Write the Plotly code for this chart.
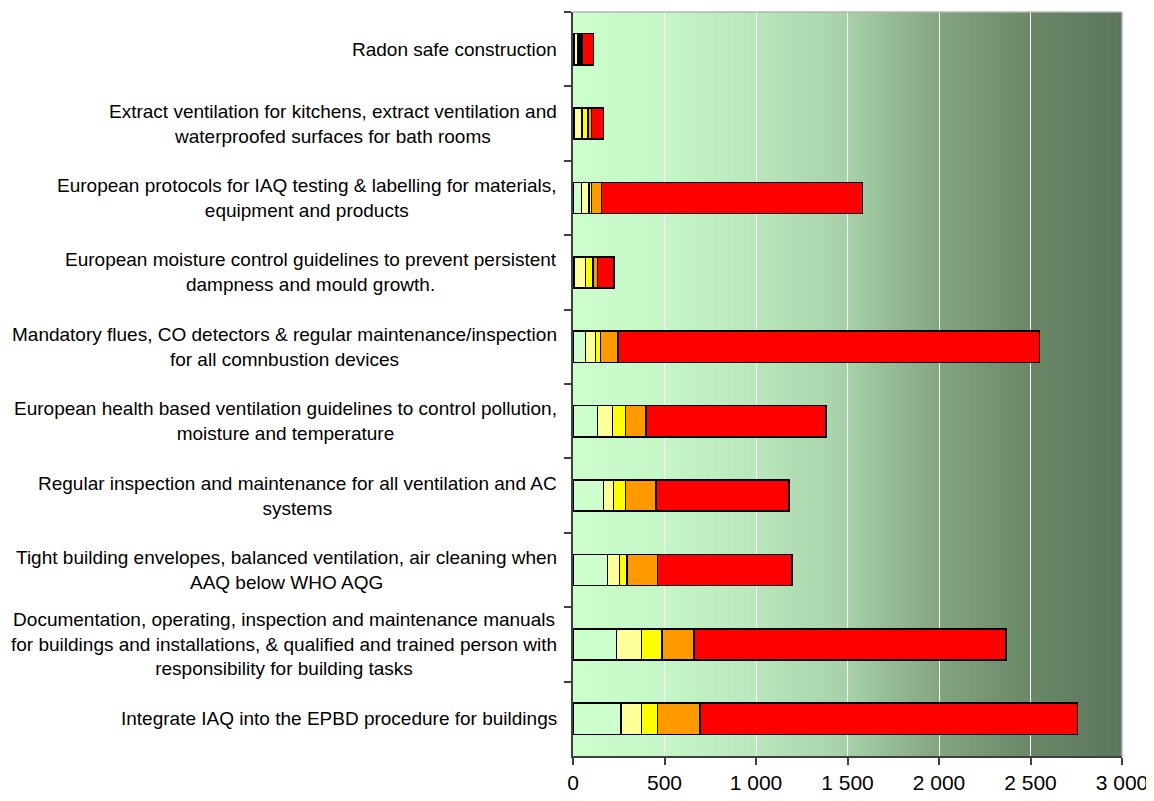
import plotly.graph_objects as go

# ---------------- data ----------------
categories = [
    "Radon safe construction",
    "Extract ventilation for kitchens, extract ventilation and<br>waterproofed surfaces for bath rooms",
    "European protocols for IAQ testing & labelling for materials,<br>equipment and products",
    "European moisture control guidelines to prevent persistent<br>dampness and mould growth.",
    "Mandatory flues, CO detectors & regular maintenance/inspection<br>for all comnbustion devices",
    "European health based ventilation guidelines to control pollution,<br>moisture and temperature",
    "Regular inspection and maintenance for all ventilation and AC<br>systems",
    "Tight building envelopes, balanced ventilation, air cleaning when<br>AAQ below WHO AQG",
    "Documentation, operating, inspection and maintenance manuals<br>for buildings and installations, & qualified and trained person with<br>responsibility for building tasks",
    "Integrate IAQ into the EPBD procedure for buildings",
]

series_1 = [5, 5, 46, 5, 69, 133, 166, 188, 237, 261]
series_2 = [22, 44, 42, 64, 55, 82, 56, 66, 137, 113]
series_3 = [11, 33, 12, 40, 26, 71, 64, 40, 111, 89]
series_4 = [11, 18, 55, 24, 96, 113, 168, 167, 177, 230]
series_5 = [62, 68, 1427, 90, 2302, 983, 727, 736, 1704, 2065]

series_names = ["Series 1", "Series 2", "Series 3", "Series 4", "Series 5"]
series_values = [series_1, series_2, series_3, series_4, series_5]
series_colors = ["#ccffcc", "#ffff99", "#ffff00", "#ff9900", "#ff0000"]

x_tick_vals = [0, 500, 1000, 1500, 2000, 2500, 3000]
x_tick_text = ["0", "500", "1 000", "1 500", "2 000", "2 500", "3 000"]

# ---------------- figure ----------------
fig = go.Figure()
for name, vals, col in zip(series_names, series_values, series_colors):
    fig.add_trace(go.Bar(
        y=categories, x=vals, name=name, orientation="h",
        marker=dict(color=col, line=dict(color="#000000", width=1.5)),
        hoverinfo="x+name",
    ))

# gradient background (style only)
stops = [
    (0.00, (204, 255, 204)),
    (0.17, (196, 246, 198)),
    (0.33, (186, 231, 188)),
    (0.50, (168, 209, 169)),
    (0.57, (152, 189, 151)),
    (0.67, (131, 164, 129)),
    (0.83, (106, 136, 104)),
    (1.00, (93, 118, 93)),
]

def grad(t):
    for (t0, c0), (t1, c1) in zip(stops[:-1], stops[1:]):
        if t0 <= t <= t1:
            f = (t - t0) / (t1 - t0)
            return "rgb(%d,%d,%d)" % tuple(round(a + (b - a) * f) for a, b in zip(c0, c1))
    return "rgb(%d,%d,%d)" % stops[-1][1]

shapes = []
N = 140
for i in range(N):
    shapes.append(dict(
        type="rect", xref="x domain", yref="y domain",
        x0=i / N, x1=min(1, (i + 1.6) / N), y0=0, y1=1,
        fillcolor=grad((i + 0.5) / N), line=dict(width=0), layer="below",
    ))
# light grey border on top and right
shapes.append(dict(type="line", xref="x domain", yref="y domain", x0=0, x1=1, y0=1, y1=1,
                   line=dict(color="#b4b4b4", width=1.5), layer="above"))
shapes.append(dict(type="line", xref="x domain", yref="y domain", x0=1, x1=1, y0=0, y1=1,
                   line=dict(color="#b4b4b4", width=1.5), layer="above"))

annotations = []
for c in categories:
    annotations.append(dict(
        x=0, xref="paper", y=c, yref="y", xanchor="right", yanchor="middle",
        xshift=-14, align="center", showarrow=False, text=c,
        font=dict(family="Liberation Sans, Arial, sans-serif", size=19, color="#000000"),
    ))

fig.update_layout(
    width=1146, height=793,
    margin=dict(l=565, r=32, t=4, b=45, autoexpand=False),
    barmode="stack",
    bargap=0.58,
    showlegend=False,
    paper_bgcolor="white",
    plot_bgcolor="#ccffcc",
    font=dict(family="Liberation Sans, Arial, sans-serif", color="#000000"),
    shapes=shapes,
    annotations=annotations,
    xaxis=dict(
        range=[0, 3000], tickvals=x_tick_vals, ticktext=x_tick_text,
        showgrid=True, gridcolor="#ffffff", gridwidth=1,
        zeroline=False, showline=True, linecolor="#404040", linewidth=1.5,
        ticks="outside", ticklen=7, tickcolor="#404040", tickwidth=1.5,
        tickfont=dict(size=21, color="#000000"), automargin=False,
    ),
    yaxis=dict(
        autorange="reversed", type="category",
        showticklabels=False, showgrid=False, zeroline=False,
        showline=True, linecolor="#404040", linewidth=1.5,
        ticks="outside", ticklen=7, tickcolor="#404040", tickwidth=1.5,
        tickson="boundaries", automargin=False,
    ),
)

fig.write_html("out.html")
